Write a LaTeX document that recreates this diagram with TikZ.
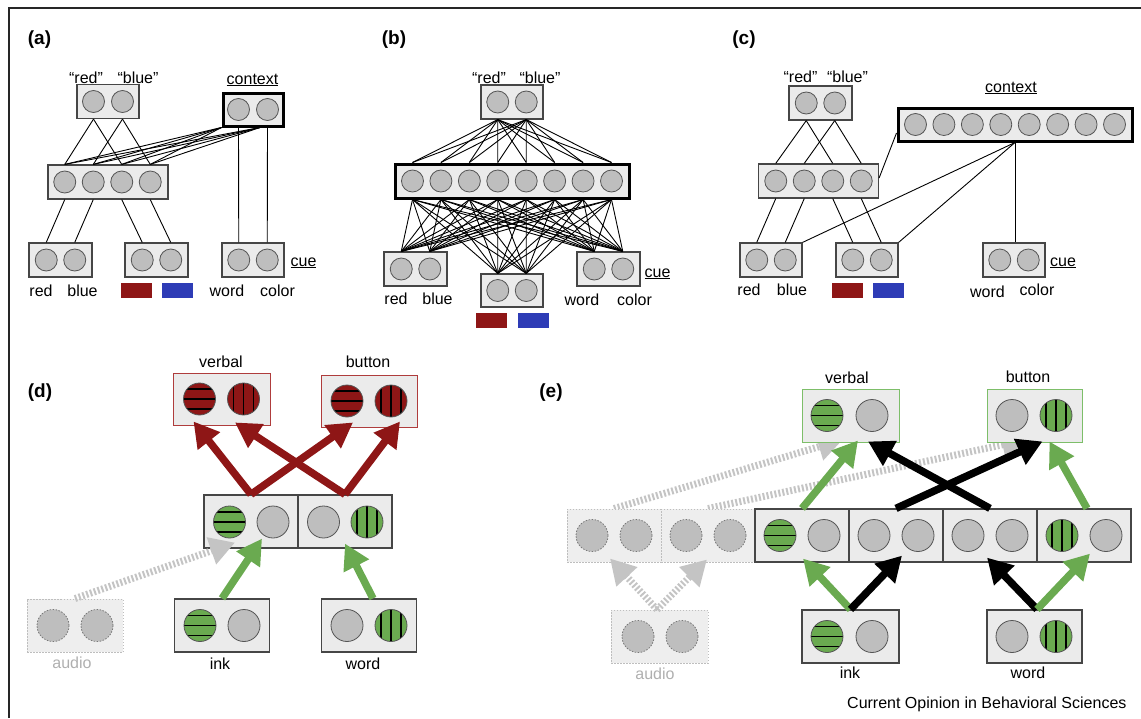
\documentclass[tikz,border=0pt]{standalone}
\usepackage{fontspec}
\setmainfont{Liberation Sans}
\usetikzlibrary{arrows.meta}
\pgfdeclarelayer{bg}
\pgfsetlayers{bg,main}
\definecolor{boxfill}{RGB}{235,235,235}
\definecolor{boxline}{RGB}{70,70,70}
\definecolor{unitfill}{RGB}{190,190,190}
\definecolor{unitline}{RGB}{85,85,85}
\definecolor{redc}{RGB}{142,22,22}
\definecolor{bluec}{RGB}{46,60,182}
\definecolor{greenc}{RGB}{106,170,80}
\definecolor{greyarrow}{RGB}{196,196,196}
\definecolor{ghostline}{RGB}{190,190,190}
\definecolor{ghostfill}{RGB}{238,238,238}
\definecolor{ghostunitline}{RGB}{120,120,120}
\definecolor{ghosttext}{RGB}{175,175,175}
\definecolor{verbalred}{RGB}{175,60,60}
\definecolor{verbalgreen}{RGB}{125,190,105}
\tikzset{
  lbl/.style={font=\fontsize{16}{18}\selectfont, inner sep=0pt},
  plabel/.style={font=\fontsize{19}{21}\selectfont\bfseries, inner sep=0pt},
  netbox/.style={draw=boxline, fill=boxfill, line width=1.2pt, inner sep=0pt, minimum height=34pt},
  ctxbox/.style={netbox, draw=black, line width=3pt},
  unit/.style={circle, draw=unitline, fill=unitfill, line width=0.8pt, minimum size=22pt, inner sep=0pt},
  bigunit/.style={unit, minimum size=32pt},
  bigbox/.style={netbox, minimum width=95pt, minimum height=53pt},
  rowbox/.style={netbox, minimum width=94pt, minimum height=53pt},
  ghostbox/.style={draw=ghostline, fill=ghostfill, dash pattern=on 1.5pt off 1.5pt, line width=0.9pt, minimum width=94pt, minimum height=53pt, inner sep=0pt},
  ghostunit/.style={bigunit, draw=ghostunitline, dash pattern=on 1.5pt off 1.5pt},
  hstripes/.style={fill=#1, path picture={\foreach \d in {-10pt,0pt,10pt}{\draw[black, line width=1.6pt, solid] ([yshift=\d]path picture bounding box.west) -- ([yshift=\d]path picture bounding box.east);}}},
  vstripes/.style={fill=#1, path picture={\foreach \d in {-10pt,0pt,10pt}{\draw[black, line width=1.6pt, solid] ([xshift=\d]path picture bounding box.north) -- ([xshift=\d]path picture bounding box.south);}}},
  conn/.style={line width=0.9pt, black},
  bigarrow/.style={line width=7.5pt, -{Triangle[length=25pt,width=27pt]}},
  ghostarrow/.style={bigarrow, line width=7pt, draw=greyarrow, dash pattern=on 2pt off 2pt},
  swatch/.style={minimum width=31pt, minimum height=15pt, inner sep=0pt}
}
\begin{document}
\begin{tikzpicture}[x=1pt,y=-1pt]
\useasboundingbox (0,0) rectangle (1141,718);
\draw[line width=1.3pt, black!85] (9,718) -- (9,8) -- (1141,8);

% panel labels
\node[plabel] (pa) at (39.5,39.5) {(a)};
\node[plabel] (pb) at (394,39.5) {(b)};
\node[plabel] (pc) at (744,39.5) {(c)};
\node[plabel] (pd) at (40,393) {(d)};
\node[plabel] (pe) at (551,393) {(e)};

% ================= panel (a)
\node[netbox, minimum width=62pt] (a-top) at (108,101.5) {};
\node[unit] (a-t1) at (93.5,101.5) {};
\node[unit] (a-t2) at (122.5,101.5) {};
\node[lbl, anchor=base] (a-qred) at (86,83) {“red”};
\node[lbl, anchor=base] (a-qblue) at (138,83) {“blue”};
\node[ctxbox, minimum width=60pt, minimum height=33pt] (a-ctx) at (253,109.5) {};
\node[unit] (a-c1) at (238.5,109.5) {};
\node[unit] (a-c2) at (267.5,109.5) {};
\node[lbl, anchor=base] (a-lctx) at (252.5,84) {\underline{context}};
\node[netbox, minimum width=120pt] (a-mid) at (108,182) {};
\foreach \i/\x in {1/64.75,2/93.25,3/121.75,4/150.25} \node[unit] (a-m\i) at (\x,182) {};
\node[netbox, minimum width=63pt] (a-b1) at (60.5,260) {};
\node[unit] (a-r1) at (46.25,260) {};
\node[unit] (a-r2) at (74.75,260) {};
\node[netbox, minimum width=63pt] (a-b2) at (156.5,260) {};
\node[unit] (a-s1) at (142.25,260) {};
\node[unit] (a-s2) at (170.75,260) {};
\node[netbox, minimum width=62pt] (a-cue) at (253,260) {};
\node[unit] (a-k1) at (238.75,260) {};
\node[unit] (a-k2) at (267.25,260) {};
\node[lbl, anchor=base] (a-lcue) at (303.5,266) {\underline{cue}};
\node[lbl, anchor=base] (a-lred) at (41,296) {red};
\node[lbl, anchor=base] (a-lblue) at (82.5,296) {blue};
\node[lbl, anchor=base] (a-lword) at (227,296) {word};
\node[lbl, anchor=base] (a-lcolor) at (277.5,296) {color};
\node[swatch, fill=redc] (a-wred) at (136.5,290.5) {};
\node[swatch, fill=bluec] (a-wblue) at (177.5,290.5) {};

\draw[conn] (a-t1 |- a-top.south) -- (a-m1 |- a-mid.north);
\draw[conn] (a-t1 |- a-top.south) -- (a-m3 |- a-mid.north);
\draw[conn] (a-t2 |- a-top.south) -- (a-m2 |- a-mid.north);
\draw[conn] (a-t2 |- a-top.south) -- (a-m4 |- a-mid.north);
\coordinate (a-cs1) at (a-ctx.south west);
\coordinate (a-cs2) at ([xshift=7pt]a-ctx.south);
\foreach \i in {1,...,4}{
  \draw[conn] (a-cs1) -- (a-m\i |- a-mid.north);
  \draw[conn] (a-cs2) -- (a-m\i |- a-mid.north);
}
\draw[conn] (a-c1 |- a-ctx.south) -- (a-k1 |- a-cue.north);
\draw[conn] (a-c2 |- a-ctx.south) -- (a-k2 |- a-cue.north);
\draw[conn] (a-m1 |- a-mid.south) -- (a-r1 |- a-b1.north);
\draw[conn] (a-m2 |- a-mid.south) -- (a-r2 |- a-b1.north);
\draw[conn] (a-m3 |- a-mid.south) -- (a-s1 |- a-b2.north);
\draw[conn] (a-m4 |- a-mid.south) -- (a-s2 |- a-b2.north);

% ================= panel (b)
\node[netbox, minimum width=62pt] (b-top) at (512,102) {};
\node[unit] (b-t1) at (497.75,102) {};
\node[unit] (b-t2) at (526.25,102) {};
\node[lbl, anchor=base] (b-qred) at (489,83) {“red”};
\node[lbl, anchor=base] (b-qblue) at (540,83) {“blue”};
\node[ctxbox, minimum width=234pt] (b-mid) at (512,181) {};
\foreach \i in {1,...,8} \node[unit] (b-m\i) at ({512+(\i-4.5)*28.43},181) {};
\node[netbox, minimum width=63pt] (b-l) at (415.5,269) {};
\node[unit] (b-l1) at (401.25,269) {};
\node[unit] (b-l2) at (429.75,269) {};
\node[netbox, minimum width=62pt, minimum height=33pt] (b-c) at (512,290.5) {};
\node[unit] (b-c1) at (497.75,290.5) {};
\node[unit] (b-c2) at (526.25,290.5) {};
\node[netbox, minimum width=63pt] (b-r) at (608.5,269) {};
\node[unit] (b-r1) at (594.25,269) {};
\node[unit] (b-r2) at (622.75,269) {};
\node[lbl, anchor=base] (b-lcue) at (657.5,277) {\underline{cue}};
\node[lbl, anchor=base] (b-lred) at (396,304) {red};
\node[lbl, anchor=base] (b-lblue) at (437.5,304) {blue};
\node[lbl, anchor=base] (b-lword) at (582,305) {word};
\node[lbl, anchor=base] (b-lcolor) at (634.5,305) {color};
\node[swatch, fill=redc] (b-wred) at (491.5,320.5) {};
\node[swatch, fill=bluec] (b-wblue) at (533,320.5) {};
\foreach \i in {1,...,8}{
  \draw[conn] (b-t1 |- b-top.south) -- (b-m\i |- b-mid.north);
  \draw[conn] (b-t2 |- b-top.south) -- (b-m\i |- b-mid.north);
  \foreach \bx in {l,c,r}{
    \foreach \k in {1,2}{
      \draw[conn] (b-m\i |- b-mid.south) -- (b-\bx\k |- b-\bx.north);
    }
  }
}

% ================= panel (c)
\node[netbox, minimum width=63pt] (c-top) at (820.5,103) {};
\node[unit] (c-t1) at (806.25,103) {};
\node[unit] (c-t2) at (834.75,103) {};
\node[lbl, anchor=base] (c-qred) at (800.5,82) {“red”};
\node[lbl, anchor=base] (c-qblue) at (847.5,82) {“blue”};
\node[ctxbox, minimum width=234pt, minimum height=33pt] (c-ctx) at (1015,124.5) {};
\foreach \i in {1,...,8} \node[unit] (c-x\i) at ({1015+(\i-4.5)*28.43},124.5) {};
\node[lbl, anchor=base] (c-lctx) at (1011,92) {\underline{context}};
\node[netbox, minimum width=120pt] (c-mid) at (818.5,181) {};
\foreach \i/\x in {1/775.75,2/804.25,3/832.75,4/861.25} \node[unit] (c-m\i) at (\x,181) {};
\node[netbox, minimum width=62pt] (c-b1) at (771,260) {};
\node[unit] (c-r1) at (756.75,260) {};
\node[unit] (c-r2) at (785.25,260) {};
\node[netbox, minimum width=62pt] (c-b2) at (867,260) {};
\node[unit] (c-s1) at (852.75,260) {};
\node[unit] (c-s2) at (881.25,260) {};
\node[netbox, minimum width=62pt] (c-cue) at (1014,260) {};
\node[unit] (c-k1) at (999.75,260) {};
\node[unit] (c-k2) at (1028.25,260) {};
\node[lbl, anchor=base] (c-lcue) at (1063,266) {\underline{cue}};
\node[lbl, anchor=base] (c-lred) at (749,295) {red};
\node[lbl, anchor=base] (c-lblue) at (792,295) {blue};
\node[lbl, anchor=base] (c-lword) at (987.5,297) {word};
\node[lbl, anchor=base] (c-lcolor) at (1037,295) {color};
\node[swatch, fill=redc] (c-wred) at (847,290.5) {};
\node[swatch, fill=bluec] (c-wblue) at (888,290.5) {};
\draw[conn] (c-t1 |- c-top.south) -- (c-m1 |- c-mid.north);
\draw[conn] (c-t1 |- c-top.south) -- (c-m3 |- c-mid.north);
\draw[conn] (c-t2 |- c-top.south) -- (c-m2 |- c-mid.north);
\draw[conn] (c-t2 |- c-top.south) -- (c-m4 |- c-mid.north);
\draw[conn] (c-m1 |- c-mid.south) -- (c-r1 |- c-b1.north);
\draw[conn] (c-m2 |- c-mid.south) -- (c-r2 |- c-b1.north);
\draw[conn] (c-m3 |- c-mid.south) -- (c-s1 |- c-b2.north);
\draw[conn] (c-m4 |- c-mid.south) -- (c-s2 |- c-b2.north);
\draw[conn] ([yshift=-8.5pt]c-ctx.west) -- ([yshift=3pt]c-mid.east);
\draw[conn] (c-ctx.south) -- (c-b1.north east);
\draw[conn] (c-ctx.south) -- (c-b2.north east);
\draw[conn] (c-ctx.south) -- (c-ctx.south |- c-cue.north);

% ================= panel (d)
\node[lbl, anchor=base] (d-lverbal) at (221,367) {verbal};
\node[lbl, anchor=base] (d-lbutton) at (368,367) {button};
\node[bigbox, draw=verbalred, line width=0.9pt, minimum width=97pt, minimum height=52pt] (d-verbal) at (221.5,399) {};
\node[bigunit, hstripes=redc] (d-v1) at (199.5,399) {};
\node[bigunit, vstripes=redc] (d-v2) at (243.5,399) {};
\node[bigbox, draw=verbalred, line width=0.9pt, minimum width=96pt, minimum height=52pt] (d-button) at (369,401) {};
\node[bigunit, hstripes=redc] (d-b1) at (347,401) {};
\node[bigunit, vstripes=redc] (d-b2) at (391,401) {};
\node[rowbox] (d-m1) at (251,521.5) {};
\node[bigunit, hstripes=greenc] (d-m1a) at (229.5,522) {};
\node[bigunit] (d-m1b) at (273,522) {};
\node[rowbox] (d-m2) at (345,521.5) {};
\node[bigunit] (d-m2a) at (323.5,522) {};
\node[bigunit, vstripes=greenc] (d-m2b) at (367,522) {};
\node[bigbox] (d-ink) at (222,625.5) {};
\node[bigunit, hstripes=greenc] (d-i1) at (200,625.5) {};
\node[bigunit] (d-i2) at (244,625.5) {};
\node[bigbox] (d-word) at (369,625.5) {};
\node[bigunit] (d-w1) at (347,625.5) {};
\node[bigunit, vstripes=greenc] (d-w2) at (391,625.5) {};
\node[ghostbox, minimum width=96pt] (d-audio) at (75,625.5) {};
\node[ghostunit] (d-a1) at (53,625.5) {};
\node[ghostunit] (d-a2) at (97,625.5) {};
\node[lbl, anchor=base] (d-link) at (220,669) {ink};
\node[lbl, anchor=base] (d-lword) at (363,669) {word};
\node[lbl, anchor=base, text=ghosttext] (d-laudio) at (72,668) {audio};

\draw[ghostarrow] (d-audio.north) -- ([xshift=-16pt,yshift=6pt]d-m1.south);
\draw[bigarrow, draw=greenc] (d-ink.north) -- ([xshift=11pt,yshift=10pt]d-m1.south);
\draw[bigarrow, draw=greenc] ([xshift=4pt]d-word.north) -- ([yshift=5pt]d-m2.south);
\draw[bigarrow, draw=redc] (d-m1.north) -- ([xshift=-28pt,yshift=4pt]d-verbal.south);
\draw[bigarrow, draw=redc] (d-m1.north) -- ([xshift=-16pt,yshift=5pt]d-button.south);
\draw[bigarrow, draw=redc] (d-m2.north) -- ([xshift=13.5pt,yshift=3pt]d-verbal.south);
\draw[bigarrow, draw=redc] (d-m2.north) -- ([xshift=31pt,yshift=6pt]d-button.south);

% ================= panel (e)
\node[lbl, anchor=base] (e-lverbal) at (847,383) {verbal};
\node[lbl, anchor=base] (e-lbutton) at (1028,382) {button};
\node[bigbox, draw=verbalgreen, line width=0.9pt, minimum width=97pt] (e-verbal) at (850.5,415.5) {};
\node[bigunit, hstripes=greenc] (e-v1) at (827,415.5) {};
\node[bigunit] (e-v2) at (872,415.5) {};
\node[bigbox, draw=verbalgreen, line width=0.9pt] (e-button) at (1034.5,415.5) {};
\node[bigunit] (e-b1) at (1012,415.5) {};
\node[bigunit, vstripes=greenc] (e-b2) at (1056,415.5) {};
\node[ghostbox] (e-x1) at (614,535.5) {};
\node[ghostunit] (e-x1a) at (592,535.5) {};
\node[ghostunit] (e-x1b) at (636,535.5) {};
\node[ghostbox] (e-x2) at (708,535.5) {};
\node[ghostunit] (e-x2a) at (686,535.5) {};
\node[ghostunit] (e-x2b) at (730,535.5) {};
\node[rowbox] (e-s1) at (802,535.5) {};
\node[bigunit, hstripes=greenc] (e-s1a) at (780,535.5) {};
\node[bigunit] (e-s1b) at (824,535.5) {};
\node[rowbox] (e-s2) at (896,535.5) {};
\node[bigunit] (e-s2a) at (874,535.5) {};
\node[bigunit] (e-s2b) at (918,535.5) {};
\node[rowbox] (e-s3) at (990,535.5) {};
\node[bigunit] (e-s3a) at (968,535.5) {};
\node[bigunit] (e-s3b) at (1012,535.5) {};
\node[rowbox] (e-s4) at (1084,535.5) {};
\node[bigunit, vstripes=greenc] (e-s4a) at (1062,535.5) {};
\node[bigunit] (e-s4b) at (1106,535.5) {};
\node[bigbox, minimum width=97pt] (e-ink) at (850.5,636.5) {};
\node[bigunit, hstripes=greenc] (e-i1) at (827,636.5) {};
\node[bigunit] (e-i2) at (872,636.5) {};
\node[bigbox] (e-word) at (1034.5,636.5) {};
\node[bigunit] (e-w1) at (1012,636.5) {};
\node[bigunit, vstripes=greenc] (e-w2) at (1056,636.5) {};
\node[ghostbox, minimum width=97pt] (e-audio) at (659.5,636.5) {};
\node[ghostunit] (e-a1) at (638,636.5) {};
\node[ghostunit] (e-a2) at (682,636.5) {};
\node[lbl, anchor=base] (e-link) at (850,678) {ink};
\node[lbl, anchor=base] (e-lword) at (1028,678) {word};
\node[lbl, anchor=base, text=ghosttext] (e-laudio) at (655,679) {audio};
\node[lbl, anchor=base west] (credit) at (847,708) {Current Opinion in Behavioral Sciences};

\begin{pgfonlayer}{bg}
\draw[ghostarrow] (e-x1.north) -- ([xshift=-7.5pt,yshift=3pt]e-verbal.south);
\draw[ghostarrow] (e-x2.north) -- ([xshift=-7.5pt,yshift=3pt]e-button.south);
\end{pgfonlayer}
\draw[ghostarrow] ([xshift=-2.5pt]e-audio.north) -- ([xshift=-4pt,yshift=4pt]e-x1.south);
\draw[ghostarrow] ([xshift=-2.5pt]e-audio.north) -- ([xshift=-1pt,yshift=3pt]e-x2.south);
\draw[bigarrow, draw=greenc] (e-s1.north) -- ([xshift=7.5pt,yshift=2pt]e-verbal.south);
\draw[bigarrow, draw=greenc] ([xshift=3pt]e-s4.north) -- ([xshift=15pt,yshift=1pt]e-button.south);
\draw[bigarrow, draw=black] (e-s3.north) -- ([xshift=17.5pt,yshift=1pt]e-verbal.south);
\draw[bigarrow, draw=black] (e-s2.north) -- ([xshift=8pt,yshift=1pt]e-button.south);
\draw[bigarrow, draw=greenc] (e-ink.north) -- ([xshift=1pt,yshift=4pt]e-s1.south);
\draw[bigarrow, draw=black] (e-ink.north) -- ([xshift=6pt,yshift=7pt]e-s2.south);
\draw[bigarrow, draw=black] ([xshift=2.5pt]e-word.north) -- ([xshift=-3pt,yshift=5pt]e-s3.south);
\draw[bigarrow, draw=greenc] ([xshift=2.5pt]e-word.north) -- ([xshift=6pt,yshift=9pt]e-s4.south);
\end{tikzpicture}
\end{document}
